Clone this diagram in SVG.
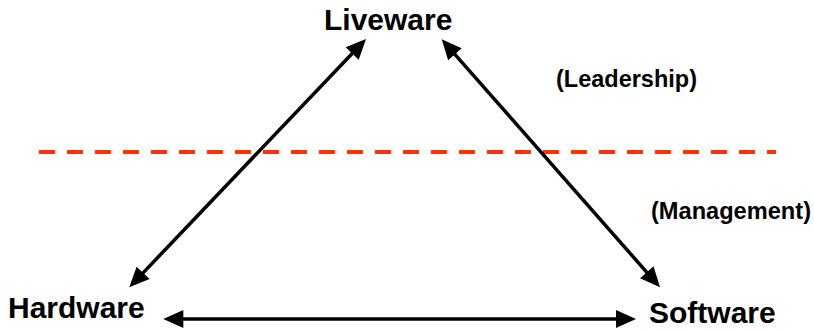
<svg xmlns="http://www.w3.org/2000/svg" width="814" height="331" viewBox="0 0 814 331">
<style>
  .node { font-family: "Liberation Sans", Arial, sans-serif; font-weight: bold; font-size: 30px; fill: #000; }
  .note { font-family: "Liberation Sans", Arial, sans-serif; font-weight: bold; font-size: 23px; fill: #000; }
  .conn { stroke: #000; stroke-width: 3.5; fill: none; marker-start: url(#ah); marker-end: url(#ah); }
  .divider { stroke: #ff3300; stroke-width: 4; stroke-dasharray: 16 12; fill: none; }
</style>
<defs>
  <marker id="ah" markerUnits="userSpaceOnUse" markerWidth="20" markerHeight="18" refX="10" refY="9" orient="auto-start-reverse" overflow="visible">
    <path d="M0,0 L20,9 L0,18 z" fill="#000"/>
  </marker>
</defs>
<rect width="814" height="331" fill="#fff"/>
<line class="divider" x1="39" y1="152" x2="776" y2="152"/>
<text class="note" x="556" y="87" textLength="141" lengthAdjust="spacingAndGlyphs">(Leadership)</text>
<text class="note" x="651" y="219" textLength="160" lengthAdjust="spacingAndGlyphs">(Management)</text>
<g id="connectors">
  <line class="conn" x1="136.2" y1="280.1" x2="359.1" y2="46.2"/>
  <line class="conn" x1="448.3" y1="46.8" x2="653.4" y2="279.8"/>
  <line class="conn" x1="173.3" y1="319" x2="626" y2="319"/>
</g>
<g id="liveware"><text class="node" x="324" y="30">Liveware</text></g>
<g id="hardware"><text class="node" x="8" y="318">Hardware</text></g>
<g id="software"><text class="node" x="649" y="323">Software</text></g>
</svg>
